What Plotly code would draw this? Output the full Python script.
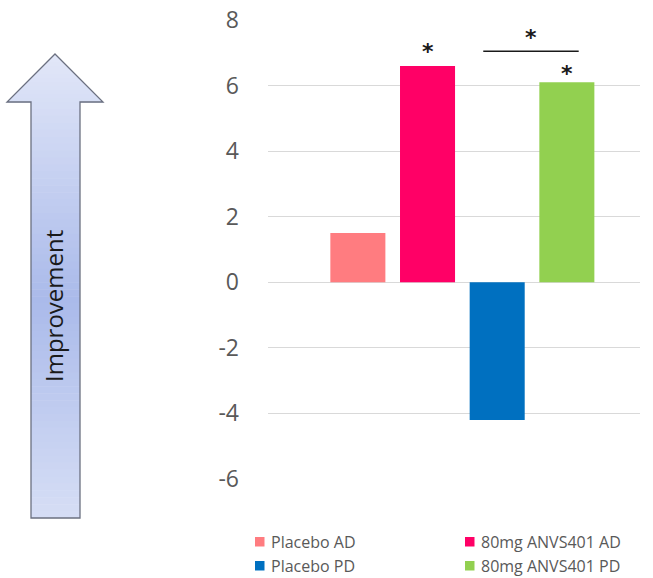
import plotly.graph_objects as go

# Mean change from baseline by group
groups = ["Placebo AD", "80mg ANVS401 AD", "Placebo PD", "80mg ANVS401 PD"]
values = [1.5, 6.6, -4.2, 6.1]
colors = ["#ff7c80", "#ff0066", "#0070c0", "#92d050"]
tick_vals = [-6, -4, -2, 0, 2, 4, 6, 8]
tick_text = ["-6", "-4", "-2", "0", "2", "4", "6", "8"]

W, H = 653, 578
M_L, M_R, M_T, M_B = 268, 13, 20, 99
PW, PH = W - M_L - M_R, H - M_T - M_B
FONT = "Open Sans, Lato, sans-serif"


def px(x):
    return (x - M_L) / PW


def py(y):
    return (H - M_B - y) / PH


fig = go.Figure()
for g, v, c in zip(groups, values, colors):
    fig.add_trace(go.Bar(x=[g], y=[v], name=g, marker=dict(color=c, line=dict(width=0)),
                         width=0.79, showlegend=False))

# Significance markers
star_font = dict(size=22, color="#1a1a1a", family="DejaVu Sans")
fig.add_annotation(x=groups[1], y=values[1], text="<b>*</b>", showarrow=False,
                   yanchor="middle", yshift=14, font=star_font)
fig.add_annotation(x=groups[3], y=values[3], text="<b>*</b>", showarrow=False,
                   yanchor="middle", yshift=9, font=star_font)
fig.add_shape(type="line", xref="x", yref="y", x0=1.8, x1=3.17, y0=7.05, y1=7.05,
              line=dict(color="#1a1a1a", width=1.5))
fig.add_annotation(x=2.48, y=7.05, text="<b>*</b>", showarrow=False,
                   yanchor="middle", yshift=14, font=star_font)


# Improvement arrow: shaded in horizontal bands, then outlined
TIP, HEAD_Y, BOT = 54, 102, 518
CX, HEAD_HW, SHAFT_L, SHAFT_R = 55, 48, 31, 80
stops = [(TIP, (226, 231, 248)), (300, (170, 186, 234)), (BOT, (214, 222, 245))]


def shade(y):
    for (y0, c0), (y1, c1) in zip(stops, stops[1:]):
        if y0 <= y <= y1:
            t = (y - y0) / (y1 - y0)
            return "rgb(%d,%d,%d)" % tuple(round(a + (b - a) * t) for a, b in zip(c0, c1))
    return "rgb(%d,%d,%d)" % stops[-1][1]


def half_width(y):
    return (y - TIP) / (HEAD_Y - TIP) * HEAD_HW


def poly(points):
    return "M " + " L ".join(f"{px(x):.5f},{py(y):.5f}" for x, y in points) + " Z"


n_head, n_shaft = 12, 60
for i in range(n_head):
    ya = TIP + (HEAD_Y - TIP) * i / n_head
    yb = TIP + (HEAD_Y - TIP) * (i + 1) / n_head + 0.6
    yb = min(yb, HEAD_Y + 0.6)
    wa, wb = half_width(ya), min(half_width(yb), HEAD_HW)
    pts = [(CX - wa, ya), (CX + wa, ya), (CX + wb, yb), (CX - wb, yb)]
    fig.add_shape(type="path", xref="paper", yref="paper", path=poly(pts),
                  fillcolor=shade((ya + yb) / 2), line=dict(width=0), layer="above")
for i in range(n_shaft):
    ya = HEAD_Y + (BOT - HEAD_Y) * i / n_shaft
    yb = HEAD_Y + (BOT - HEAD_Y) * (i + 1) / n_shaft + 0.6
    yb = min(yb, BOT)
    pts = [(SHAFT_L, ya), (SHAFT_R, ya), (SHAFT_R, yb), (SHAFT_L, yb)]
    fig.add_shape(type="path", xref="paper", yref="paper", path=poly(pts),
                  fillcolor=shade((ya + yb) / 2), line=dict(width=0), layer="above")

outline = [(CX, TIP), (CX + HEAD_HW, HEAD_Y), (SHAFT_R, HEAD_Y), (SHAFT_R, BOT),
           (SHAFT_L, BOT), (SHAFT_L, HEAD_Y), (CX - HEAD_HW, HEAD_Y)]
fig.add_shape(type="path", xref="paper", yref="paper", path=poly(outline),
              fillcolor="rgba(0,0,0,0)", line=dict(color="#6b7080", width=1.3), layer="above")
fig.add_annotation(xref="paper", yref="paper", x=px(54), y=py(306), text="Improvement",
                   textangle=-90, showarrow=False, xanchor="center", yanchor="middle",
                   font=dict(size=24, color="#1a1a1a", family=FONT))

# Legend, two columns by two rows
leg_cols = [255, 465]
leg_rows = [542, 566]
for i, (g, c) in enumerate(zip(groups, colors)):
    lx = leg_cols[i % 2]
    ly = leg_rows[i // 2]
    fig.add_shape(type="rect", xref="paper", yref="paper",
                  x0=px(lx), x1=px(lx + 9.5), y0=py(ly - 5), y1=py(ly + 4.5),
                  fillcolor=c, line=dict(width=0))
    fig.add_annotation(xref="paper", yref="paper", x=px(lx + 14), y=py(ly), text=g,
                       showarrow=False, xanchor="left", yanchor="middle",
                       font=dict(size=16, color="#595959", family=FONT))

fig.update_layout(
    width=W, height=H,
    margin=dict(l=M_L, r=M_R, t=M_T, b=M_B, autoexpand=False),
    paper_bgcolor="white", plot_bgcolor="white",
    font=dict(family=FONT, color="#595959"),
    bargap=0.21,
    showlegend=False,
    xaxis=dict(range=[-1.29, 4.05], showticklabels=False, showgrid=False,
               zeroline=False, showline=False, ticks=""),
    yaxis=dict(range=[-6, 8], tickvals=tick_vals, ticktext=tick_text, showgrid=True,
               gridcolor="#d9d9d9", gridwidth=1, zeroline=True, zerolinecolor="#d9d9d9",
               zerolinewidth=1, showline=False, ticks="", ticklabelstandoff=28,
               tickfont=dict(size=23, color="#595959", family=FONT)),
)

fig.write_html("out.html")
